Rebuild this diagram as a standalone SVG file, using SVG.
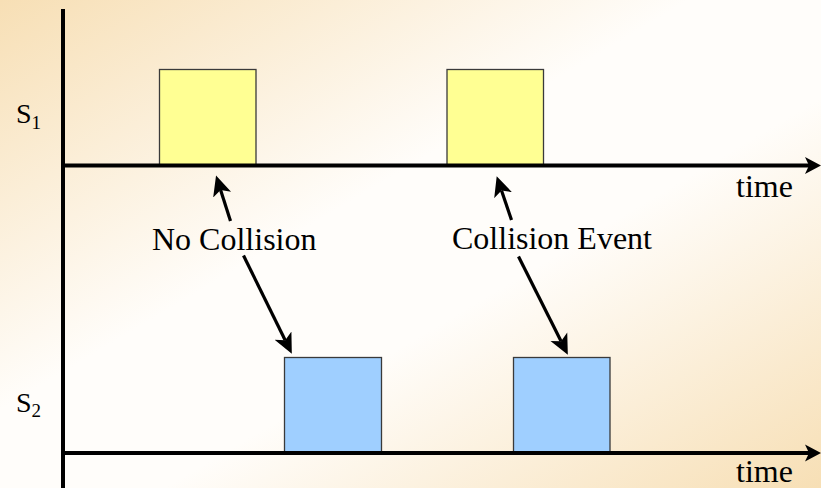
<svg xmlns="http://www.w3.org/2000/svg" width="821" height="488" viewBox="0 0 821 488">
  <defs>
    <linearGradient id="bg" x1="0" y1="0" x2="1" y2="1">
      <stop offset="0" stop-color="#f7dfb5"/>
      <stop offset="0.42" stop-color="#fffdfa"/>
      <stop offset="0.6" stop-color="#fffdfa"/>
      <stop offset="1" stop-color="#f7dfb5"/>
    </linearGradient>
    <marker id="head" markerUnits="userSpaceOnUse" markerWidth="20" markerHeight="20" viewBox="0 -8 16 16" refX="4" refY="0" orient="auto">
      <path d="M0,-7.5 L16,0 L0,7.5 L4,0 Z" fill="#000"/>
    </marker>
  </defs>
  <style>
    text { font-family: 'Liberation Serif', 'DejaVu Serif', serif; fill: #000; }
    .big { font-size: 32px; }
    .sig { font-size: 28px; }
    .sub { font-size: 19px; }
    .axis { stroke: #000; stroke-width: 4; fill: none; }
    .ptr { stroke: #000; stroke-width: 3.2; fill: none; marker-end: url(#head); }
    .tx1 { fill: #ffff93; stroke: #3a3a3a; stroke-width: 1.3; }
    .tx2 { fill: #9fcfff; stroke: #3a3a3a; stroke-width: 1.3; }
  </style>

  <rect x="0" y="0" width="821" height="488" fill="url(#bg)"/>

  <!-- transmissions of station 1 -->
  <g id="s1-frame-a"><rect class="tx1" x="159.5" y="69.5" width="96.5" height="96"/></g>
  <g id="s1-frame-b"><rect class="tx1" x="447" y="69.5" width="96.5" height="96"/></g>
  <!-- transmissions of station 2 -->
  <g id="s2-frame-a"><rect class="tx2" x="284.5" y="357.5" width="97" height="96"/></g>
  <g id="s2-frame-b"><rect class="tx2" x="513.5" y="357.5" width="96.5" height="96"/></g>

  <!-- axes -->
  <g id="axes">
    <line class="axis" x1="63" y1="9" x2="63" y2="488"/>
    <line class="axis" x1="61" y1="165.5" x2="810" y2="165.5"/>
    <path d="M821,165.5 L805,157 L809,165.5 L805,174 Z" fill="#000"/>
    <line class="axis" x1="61" y1="453" x2="810" y2="453"/>
    <path d="M821,453 L805,444.5 L809,453 L805,461.5 Z" fill="#000"/>
  </g>

  <!-- station labels -->
  <g id="label-s1"><text class="sig" font-family="Liberation Serif, serif" x="16" y="123">S<tspan class="sub" dy="6">1</tspan></text></g>
  <g id="label-s2"><text class="sig" font-family="Liberation Serif, serif" x="16" y="412">S<tspan class="sub" dy="5">2</tspan></text></g>
  <g id="time-1"><text class="big" font-family="Liberation Serif, serif" x="736" y="197">time</text></g>
  <g id="time-2"><text class="big" font-family="Liberation Serif, serif" x="736" y="482">time</text></g>

  <!-- annotations -->
  <g id="no-collision"><text class="big" font-family="Liberation Serif, serif" x="152" y="250">No Collision</text></g>
  <g id="collision-event"><text class="big" font-family="Liberation Serif, serif" x="452" y="249">Collision Event</text></g>

  <!-- pointers -->
  <g id="connectors">
    <line class="ptr" x1="230.5" y1="221" x2="220.6" y2="189.9"/>
    <line class="ptr" x1="243.5" y1="255.5" x2="285.2" y2="340.2"/>
    <line class="ptr" x1="511.5" y1="220" x2="501.5" y2="190.4"/>
    <line class="ptr" x1="518.5" y1="256.5" x2="561.1" y2="341.3"/>
  </g>
</svg>
